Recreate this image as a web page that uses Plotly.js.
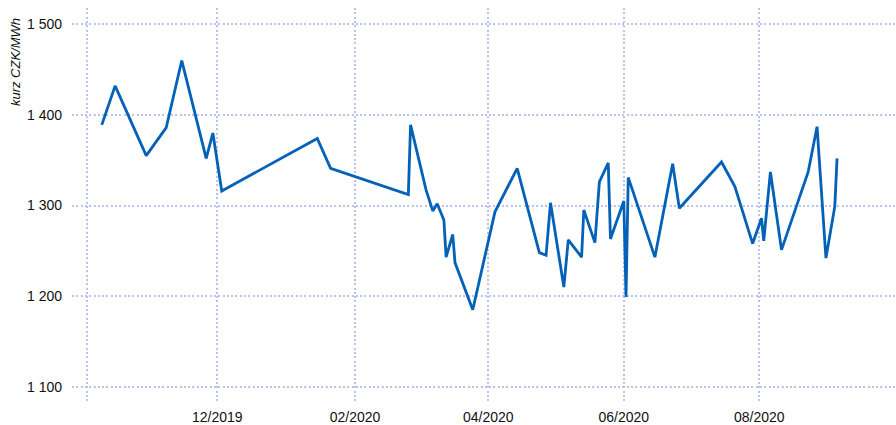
<!DOCTYPE html>
<html>
<head>
<meta charset="utf-8">
<script src="https://cdn.plot.ly/plotly-3.0.1.min.js"></script>
<style>
html,body{margin:0;padding:0;background:#fff;}
#chart{width:896px;height:425px;}
</style>
</head>
<body>
<div id="chart"></div>
<script>
const dates = [
  "2019-10-10","2019-10-16","2019-10-30","2019-11-08","2019-11-15","2019-11-26","2019-11-29","2019-12-03",
  "2020-01-15","2020-01-21","2020-02-25","2020-02-26","2020-03-04","2020-03-07","2020-03-09","2020-03-12",
  "2020-03-13","2020-03-16","2020-03-17","2020-03-25","2020-04-04","2020-04-14","2020-04-24","2020-04-27",
  "2020-04-29","2020-05-05","2020-05-07","2020-05-13","2020-05-14","2020-05-19","2020-05-21","2020-05-25",
  "2020-05-26","2020-06-01","2020-06-02","2020-06-03","2020-06-15","2020-06-23","2020-06-26","2020-07-15",
  "2020-07-21","2020-07-29","2020-08-02","2020-08-03","2020-08-06","2020-08-11","2020-08-23","2020-08-27",
  "2020-08-31","2020-09-04","2020-09-05"
];
const prices = [
  1389,1432,1355,1386,1460,1352,1380,1316,
  1374,1341,1312,1389,1317,1294,1302,1284,
  1243,1268,1237,1185,1293,1341,1248,1245,
  1303,1210,1262,1243,1295,1259,1326,1347,
  1263,1305,1199,1331,1243,1346,1297,1348,
  1321,1258,1286,1261,1337,1251,1337,1387,
  1242,1299,1352
];
const xTickVals = ["2019-10-03 11:00","2019-12-01","2020-02-01","2020-04-01","2020-06-01","2020-08-01"];
const xTickText = ["","12/2019","02/2020","04/2020","06/2020","08/2020"];
const yTickVals = [1100,1200,1300,1400,1500];
const yTitle = "kurz CZK/MWh";

const FONT = "'Liberation Sans Narrow', 'Arial Narrow', 'Liberation Sans', Arial, sans-serif";
const gridColor = "#b8c4ec";

const trace = {
  x: dates,
  y: prices,
  type: "scatter",
  mode: "lines",
  line: {color: "#0461b8", width: 2.8},
  hoverinfo: "skip"
};

const layout = {
  width: 896,
  height: 425,
  margin: {l: 72, r: 0, t: 8, b: 22, pad: 0},
  paper_bgcolor: "#ffffff",
  plot_bgcolor: "#ffffff",
  showlegend: false,
  separators: ", ",
  font: {family: FONT, size: 14, color: "#111111"},
  xaxis: {
    type: "date",
    range: ["2019-09-26 14:00", "2020-10-01 13:00"],
    tickmode: "array",
    tickvals: xTickVals,
    ticktext: xTickText,
    showgrid: true,
    gridcolor: gridColor,
    gridwidth: 2,
    griddash: "2px,2.3px",
    zeroline: false,
    showline: false,
    ticks: "",
    ticklabelstandoff: 4,
    tickfont: {family: FONT, size: 14, color: "#111111"}
  },
  yaxis: {
    range: [1082, 1518],
    tickmode: "array",
    tickvals: yTickVals,
    separatethousands: true,
    tickformat: ",d",
    showgrid: true,
    gridcolor: gridColor,
    gridwidth: 2,
    griddash: "2px,2.3px",
    zeroline: false,
    showline: false,
    ticks: "",
    ticklabelstandoff: 9,
    tickfont: {family: FONT, size: 14, color: "#111111"}
  },
  annotations: [{
    text: yTitle,
    xref: "paper", yref: "paper",
    x: -0.0692, y: 0.863,
    xanchor: "center", yanchor: "middle",
    textangle: -90,
    showarrow: false,
    font: {family: FONT, size: 13, color: "#111111", style: "italic"}
  }]
};

Plotly.newPlot("chart", [trace], layout, {displayModeBar: false, staticPlot: true});
</script>
</body>
</html>
